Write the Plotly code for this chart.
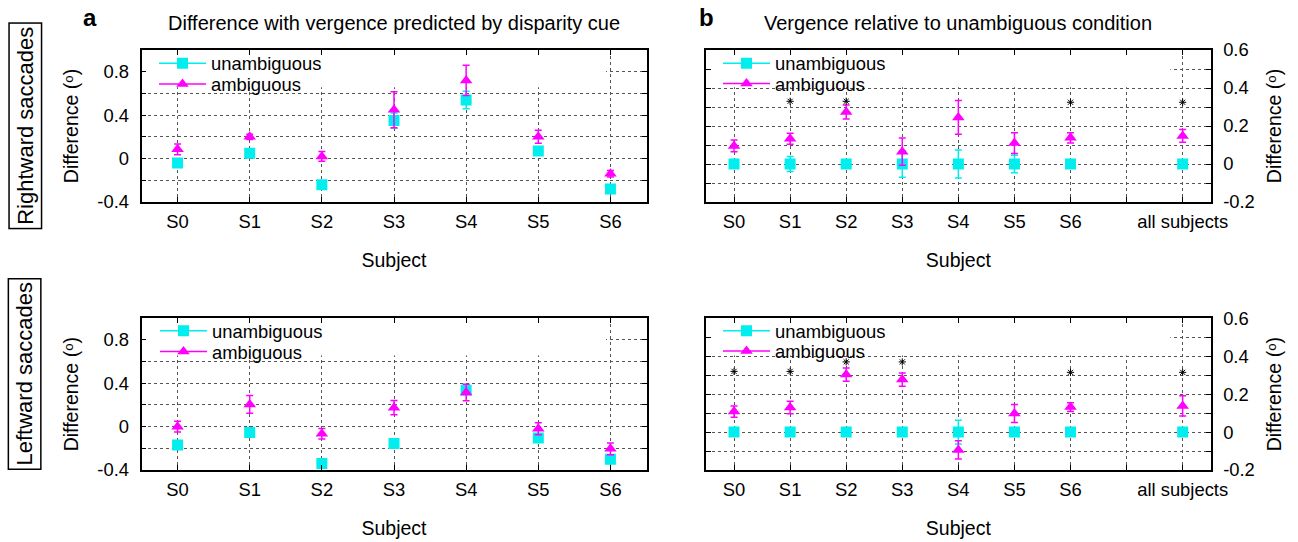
import plotly.graph_objects as go

# ---------------- data ----------------
subjects_a = ['S0', 'S1', 'S2', 'S3', 'S4', 'S5', 'S6']
subjects_b = ['S0', 'S1', 'S2', 'S3', 'S4', 'S5', 'S6', 'all subjects']
slots_b = ['S0', 'S1', 'S2', 'S3', 'S4', 'S5', 'S6', '', 'all subjects']  # one empty slot before "all subjects"

# panel a, rightward saccades
a_right_unamb = [-0.04, 0.05, -0.24, 0.35, 0.54, 0.07, -0.28]
a_right_unamb_err = [0.02, 0.02, 0.02, 0.07, 0.08, 0.03, 0.02]
a_right_amb = [0.085, 0.20, 0.02, 0.45, 0.72, 0.20, -0.14]
a_right_amb_err = [0.05, 0.025, 0.045, 0.165, 0.14, 0.06, 0.03]

# panel a, leftward saccades
a_left_unamb = [-0.17, -0.055, -0.34, -0.155, 0.335, -0.105, -0.30]
a_left_unamb_err = [0.02, 0.02, 0.02, 0.02, 0.03, 0.03, 0.02]
a_left_amb = [0.0, 0.205, -0.065, 0.175, 0.315, -0.02, -0.205]
a_left_amb_err = [0.05, 0.082, 0.048, 0.066, 0.076, 0.055, 0.055]

# panel b, rightward saccades
b_right_unamb = [0.0, 0.0, 0.0, 0.0, 0.0, 0.0, 0.0, 0.0]
b_right_unamb_err = [0.015, 0.039, 0.015, 0.07, 0.074, 0.046, 0.01, 0.01]
b_right_amb = [0.095, 0.133, 0.274, 0.065, 0.245, 0.11, 0.138, 0.148]
b_right_amb_err = [0.031, 0.029, 0.037, 0.072, 0.089, 0.055, 0.027, 0.033]
b_right_star_x = ['S1', 'S2', 'S6', 'all subjects']
b_right_star_y = [0.33, 0.33, 0.325, 0.325]

# panel b, leftward saccades
b_left_unamb = [0.0, 0.0, 0.0, 0.0, 0.0, 0.0, 0.0, 0.0]
b_left_unamb_err = [0.01, 0.01, 0.015, 0.015, 0.063, 0.01, 0.01, 0.01]
b_left_amb = [0.108, 0.13, 0.303, 0.277, -0.094, 0.098, 0.132, 0.138]
b_left_amb_err = [0.03, 0.033, 0.035, 0.035, 0.048, 0.047, 0.023, 0.053]
b_left_star_x = ['S0', 'S1', 'S2', 'S3', 'S6', 'all subjects']
b_left_star_y = [0.32, 0.32, 0.37, 0.37, 0.315, 0.315]

# y-axis ticks: labelled values, extra grid values, fine tick marks
a_ylabels = [-0.4, 0.0, 0.4, 0.8]
a_ygrid_extra = [-0.2, 0.2, 0.6]
a_yfine = [-0.3, -0.1, 0.1, 0.3, 0.5, 0.7, 0.9]
b_ylabels = [-0.2, 0.0, 0.2, 0.4, 0.6]
b_ygrid_extra = [-0.1, 0.1, 0.3, 0.5]
b_yfine = [-0.15, -0.05, 0.05, 0.15, 0.25, 0.35, 0.45, 0.55]

# ---------------- style ----------------
FONT = 'Liberation Sans, Arial, Helvetica, DejaVu Sans, sans-serif'
CYAN = '#00EEEE'
MAGENTA = '#FF00FF'
GRID = '#555555'
W, H = 1298, 542

XA = [141.5 / W, 646.5 / W]
XB = [706.0 / W, 1210.7 / W]
YTOP = [1 - 202 / H, 1 - 50 / H]
YBOT = [1 - 470 / H, 1 - 318.3 / H]


def slot(names, slots):
    return [slots.index(n) for n in names]


fig = go.Figure()

panels = [
    ('', subjects_a, a_right_unamb, a_right_unamb_err, a_right_amb, a_right_amb_err, None, None),
    ('2', slot(subjects_b, slots_b), b_right_unamb, b_right_unamb_err, b_right_amb, b_right_amb_err,
     slot(b_right_star_x, slots_b), b_right_star_y),
    ('3', subjects_a, a_left_unamb, a_left_unamb_err, a_left_amb, a_left_amb_err, None, None),
    ('4', slot(subjects_b, slots_b), b_left_unamb, b_left_unamb_err, b_left_amb, b_left_amb_err,
     slot(b_left_star_x, slots_b), b_left_star_y),
]

for sfx, xs, u, ue, a, ae, sx, sy in panels:
    xr, yr = 'x' + sfx, 'y' + sfx
    fig.add_trace(go.Scatter(
        x=xs, y=u, mode='markers', xaxis=xr, yaxis=yr, showlegend=False,
        marker=dict(symbol='square', size=11, color=CYAN, line=dict(width=0)),
        error_y=dict(type='data', array=ue, visible=True, color=CYAN, thickness=1.5, width=3.5)))
    fig.add_trace(go.Scatter(
        x=xs, y=a, mode='markers', xaxis=xr, yaxis=yr, showlegend=False,
        marker=dict(symbol='triangle-up', size=11, color=MAGENTA, line=dict(width=0)),
        error_y=dict(type='data', array=ae, visible=True, color=MAGENTA, thickness=1.5, width=3.5)))
    if sx is not None:
        fig.add_trace(go.Scatter(
            x=sx, y=sy, mode='markers', xaxis=xr, yaxis=yr, showlegend=False,
            marker=dict(symbol='asterisk-open', size=6, color='black',
                        line=dict(width=1, color='black'))))

# legends (one entry per legend so that spacing follows the reference)
legend_specs = [
    ('unambiguous', CYAN, 'square', 154, 63.3),
    ('ambiguous', MAGENTA, 'triangle-up', 154, 84.0),
    ('unambiguous', CYAN, 'square', 718, 63.3),
    ('ambiguous', MAGENTA, 'triangle-up', 718, 83.5),
    ('unambiguous', CYAN, 'square', 155, 330.7),
    ('ambiguous', MAGENTA, 'triangle-up', 155, 351.5),
    ('unambiguous', CYAN, 'square', 718, 330.7),
    ('ambiguous', MAGENTA, 'triangle-up', 718, 351.0),
]
legend_layout = {}
for i, (name, col, sym, lx, ly) in enumerate(legend_specs):
    key = 'legend' if i == 0 else 'legend%d' % (i + 1)
    fig.add_trace(go.Scatter(
        x=[None], y=[None], mode='lines+markers', name=name, legend=key,
        line=dict(color=col, width=1.5),
        marker=dict(symbol=sym, size=11, color=col)))
    legend_layout[key] = dict(
        x=lx / W, y=1 - ly / H, xanchor='left', yanchor='middle',
        bgcolor='rgba(0,0,0,0)', borderwidth=0, itemwidth=47,
        font=dict(family=FONT, size=18.4, color='black'))

axis_common = dict(showline=True, linecolor='black', linewidth=1.5, mirror='allticks',
                   ticks='inside', tickcolor='black', ticklen=5, tickwidth=1,
                   showgrid=True, gridcolor=GRID, gridwidth=1, griddash='dot',
                   zeroline=False, automargin=False,
                   tickfont=dict(family=FONT, size=18.4, color='black'))

layout = dict(
    width=W, height=H, margin=dict(l=0, r=0, t=0, b=0, autoexpand=False),
    paper_bgcolor='white', plot_bgcolor='white',
    font=dict(family=FONT, color='black'),
)

xtitle = dict(text='Subject', font=dict(family=FONT, size=19.5), standoff=23)
ytitle = dict(text='Difference (ᵒ)', font=dict(family=FONT, size=19.5), standoff=14)


def xaxis_a(anchor):
    d = dict(axis_common)
    d.update(domain=XA, anchor=anchor, type='category', categoryorder='array',
             categoryarray=subjects_a, range=[-0.5, len(subjects_a) - 0.5],
             ticklabelstandoff=2, title=xtitle)
    return d


def xaxis_b(anchor):
    used = slot(subjects_b, slots_b)
    empty = [i for i, s in enumerate(slots_b) if s == '']
    d = dict(axis_common)
    d.update(domain=XB, anchor=anchor, type='linear', range=[-0.5, len(slots_b) - 0.5],
             tickmode='array', tickvals=used, ticktext=subjects_b,
             minor=dict(tickmode='array', tickvals=empty, ticks='inside', ticklen=5,
                        tickcolor='black', showgrid=True, gridcolor=GRID, griddash='dot', gridwidth=1),
             ticklabelstandoff=2, title=xtitle)
    return d


def yaxis(domain, anchor, rng, labels, extra, side):
    d = dict(axis_common)
    d.update(domain=domain, anchor=anchor, range=rng, tickmode='array', tickvals=labels,
             ticktext=['%g' % v for v in labels], side=side, ticklabelstandoff=7,
             minor=dict(tickmode='array', tickvals=extra, ticks='inside', ticklen=5,
                        tickcolor='black', showgrid=True, gridcolor=GRID, griddash='dot', gridwidth=1),
             title=ytitle)
    return d


def yfine(over, rng, fine):
    return dict(overlaying=over, range=rng, tickmode='array', tickvals=fine,
                showticklabels=False, showgrid=False, showline=False, zeroline=False,
                ticks='inside', ticklen=3, tickcolor='black', mirror='allticks',
                automargin=False, anchor=over.replace('y', 'x'))


layout['xaxis'] = xaxis_a('y')
layout['yaxis'] = yaxis(YTOP, 'x', [-0.4, 1.0], a_ylabels, a_ygrid_extra, 'left')
layout['xaxis2'] = xaxis_b('y2')
layout['yaxis2'] = yaxis(YTOP, 'x2', [-0.2, 0.6], b_ylabels, b_ygrid_extra, 'right')
layout['xaxis3'] = xaxis_a('y3')
layout['yaxis3'] = yaxis(YBOT, 'x3', [-0.4, 1.0], a_ylabels, a_ygrid_extra, 'left')
layout['xaxis4'] = xaxis_b('y4')
layout['yaxis4'] = yaxis(YBOT, 'x4', [-0.2, 0.6], b_ylabels, b_ygrid_extra, 'right')
layout['yaxis5'] = yfine('y', [-0.4, 1.0], a_yfine)
layout['yaxis6'] = yfine('y2', [-0.2, 0.6], b_yfine)
layout['yaxis7'] = yfine('y3', [-0.4, 1.0], a_yfine)
layout['yaxis8'] = yfine('y4', [-0.2, 0.6], b_yfine)
layout.update(legend_layout)

fig.update_layout(**layout)

# opaque key area (hides grid lines behind the key, as in the original)
key_boxes = [('', 5.94, 0.657, 1.0), ('2', 7.78, 0.404, 0.6),
             ('3', 5.94, 0.657, 1.0), ('4', 7.78, 0.404, 0.6)]
for sfx, kx1, ky0, ky1 in key_boxes:
    fig.add_shape(type='rect', xref='x' + sfx, yref='y' + sfx,
                  x0=-0.5, x1=kx1, y0=ky0, y1=ky1, fillcolor='white',
                  line=dict(width=0), layer='between')

# titles and labels
ann = [
    dict(text='Difference with vergence predicted by disparity cue', x=393.7 / W, y=1 - 23 / H,
         font=dict(size=20)),
    dict(text='Vergence relative to unambiguous condition', x=958.3 / W, y=1 - 23 / H,
         font=dict(size=20)),
    dict(text='<b>a</b>', x=90 / W, y=1 - 18 / H, font=dict(size=24)),
    dict(text='<b>b</b>', x=706.7 / W, y=1 - 18 / H, font=dict(size=24)),
    dict(text='Rightward saccades', x=24.8 / W, y=1 - 125.5 / H, textangle=-90,
         font=dict(size=22), bordercolor='black', borderwidth=1.5, borderpad=3),
    dict(text='Leftward saccades', x=24.8 / W, y=1 - 374.2 / H, textangle=-90,
         font=dict(size=22), bordercolor='black', borderwidth=1.5, borderpad=3),
]
for a_ in ann:
    a_.update(xref='paper', yref='paper', showarrow=False, xanchor='center', yanchor='middle')
    a_['font'] = dict(family=FONT, color='black', **a_['font'])
    fig.add_annotation(**a_)

fig.write_html('out.html')
